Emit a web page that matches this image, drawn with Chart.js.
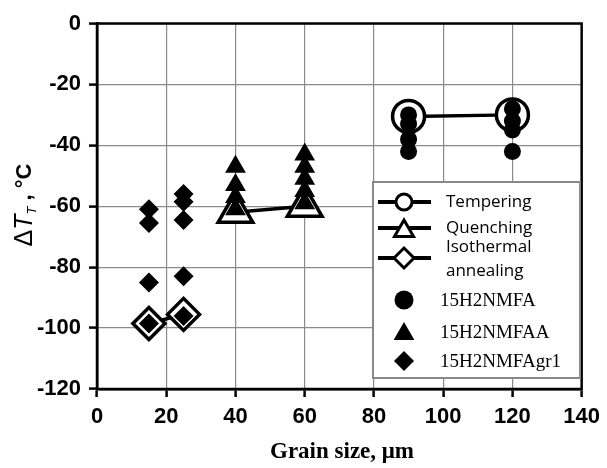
<!DOCTYPE html>
<html>
<head>
<meta charset="utf-8">
<script src="https://cdn.jsdelivr.net/npm/chart.js@4"></script>
<style>
  html, body { margin: 0; padding: 0; background: #fff; }
  #wrap { width: 607px; height: 468px; }
</style>
</head>
<body>
<div id="wrap"><canvas id="grain"></canvas></div>
<script>
// heat treatment (open markers joined by a line)
const grainTempering = [90, 120];
const dtTempering = [-30.5, -30];
const grainQuenching = [40, 60];
const dtQuenching = [-62, -60];
const grainIsothermal = [15, 25];
const dtIsothermal = [-98.5, -95.5];

// steels (filled markers)
const grainA = [90, 90, 90, 90, 120, 120, 120, 120];
const dtA = [-30, -33, -38, -42, -28, -32, -35, -42];
const grainAA = [40, 40, 40, 40, 60, 60, 60, 60, 60];
const dtAA = [-47, -53, -57, -61, -43, -47, -51, -55, -59];
const grainGr1 = [15, 15, 15, 15, 25, 25, 25, 25, 25];
const dtGr1 = [-61, -65.5, -85, -98.5, -56, -58.5, -64.5, -83, -96];

const xTicks = [0, 20, 40, 60, 80, 100, 120, 140];
const yTicks = [0, -20, -40, -60, -80, -100, -120];

function pts(xs, ys) {
    return xs.map(function (x, i) { return {x: x, y: ys[i]}; });
}

function openSet(label, xs, ys, style, r) {
    return {
        label: label, data: pts(xs, ys), showLine: true, order: 2,
        borderColor: '#000', borderWidth: 3.5,
        pointStyle: style, pointRadius: r, pointBorderWidth: 3.5,
        pointBorderColor: '#000', pointBackgroundColor: '#fff'
    };
}

function filledSet(label, xs, ys, style, r) {
    return {
        label: label, data: pts(xs, ys), showLine: false, order: 1,
        pointStyle: style, pointRadius: r, pointBorderWidth: 0,
        pointBackgroundColor: '#000', pointBorderColor: '#000'
    };
}

const extras = {
    id: 'extras',
    beforeDatasetsDraw(chart) {
        const a = chart.chartArea, ctx = chart.ctx;
        ctx.save();
        ctx.strokeStyle = '#000';
        ctx.lineWidth = 2.5;
        ctx.strokeRect(a.left, a.top, a.right - a.left, a.bottom - a.top);
        ctx.restore();
    },
    afterDraw(chart) {
        const ctx = chart.ctx;
        const draw = Chart.helpers.drawPoint;
        ctx.save();

        // legend box
        ctx.fillStyle = '#fff';
        ctx.fillRect(373, 182, 207, 196);
        ctx.strokeStyle = '#888';
        ctx.lineWidth = 2;
        ctx.strokeRect(373, 182, 207, 196);

        const rows = [
            {y: 202, style: 'circle', r: 8, text: ['Tempering']},
            {y: 228, style: 'triangle', r: 11, text: ['Quenching']},
            {y: 258, style: 'rectRot', r: 10, text: ['Isothermal', 'annealing']}
        ];
        rows.forEach(function (row) {
            ctx.strokeStyle = '#000';
            ctx.lineWidth = 4;
            ctx.beginPath();
            ctx.moveTo(378, row.y);
            ctx.lineTo(431, row.y);
            ctx.stroke();
            ctx.fillStyle = '#fff';
            ctx.lineWidth = 3;
            draw(ctx, {pointStyle: row.style, radius: row.r, borderWidth: 3}, 404, row.y + (row.style === 'triangle' ? 3 : 0));
            ctx.fillStyle = '#000';
            ctx.font = '17px "Open Sans", sans-serif';
            ctx.textBaseline = 'middle';
            ctx.textAlign = 'left';
            if (row.text.length === 1) {
                ctx.fillText(row.text[0], 446, row.y);
            } else {
                ctx.fillText(row.text[0], 446, row.y - 11);
                ctx.fillText(row.text[1], 446, row.y + 13);
            }
        });

        const rows2 = [
            {y: 300, style: 'circle', r: 9.5, text: '15H2NMFA'},
            {y: 332, style: 'triangle', r: 12, text: '15H2NMFAA'},
            {y: 361, style: 'rectRot', r: 10, text: '15H2NMFAgr1'}
        ];
        rows2.forEach(function (row) {
            ctx.fillStyle = '#000';
            ctx.strokeStyle = '#000';
            draw(ctx, {pointStyle: row.style, radius: row.r, borderWidth: 0}, 404, row.y + (row.style === 'triangle' ? 2 : 0));
            ctx.font = '19px "Liberation Serif", serif';
            ctx.textBaseline = 'middle';
            ctx.textAlign = 'left';
            ctx.fillText(row.text, 440, row.y + 1);
        });

        // axis titles
        ctx.fillStyle = '#000';
        ctx.font = 'bold 23px "Liberation Serif", serif';
        ctx.textAlign = 'center';
        ctx.textBaseline = 'middle';
        ctx.fillText('Grain size, \u03bcm', 342, 452);

        ctx.translate(25, 205);
        ctx.rotate(-Math.PI / 2);
        ctx.textAlign = 'left';
        const parts = [
            {t: '\u0394', f: '25px "Liberation Sans", sans-serif', dy: 0},
            {t: 'T', f: 'italic 25px "Liberation Sans", sans-serif', dy: 0},
            {t: 'T', f: 'italic 13px "Liberation Sans", sans-serif', dy: 7},
            {t: ' , \u00b0C', f: 'bold 22px "Liberation Sans", sans-serif', dy: 0}
        ];
        let w = 0;
        parts.forEach(function (p) { ctx.font = p.f; w += ctx.measureText(p.t).width; });
        let x = -w / 2;
        parts.forEach(function (p) {
            ctx.font = p.f;
            ctx.fillText(p.t, x, p.dy);
            x += ctx.measureText(p.t).width;
        });
        ctx.restore();
    }
};

function renderChart() {
    const ctx = document.getElementById('grain').getContext('2d');
    const gridStyle = {
        color: '#8a8a8a', lineWidth: 1.2,
        drawTicks: true, tickLength: 8, tickColor: '#000', tickWidth: 2.5
    };
    const tickFont = {family: '"Liberation Sans", Arial, sans-serif', size: 22, weight: 'bold'};
    new Chart(ctx, {
        type: 'scatter',
        data: {
            datasets: [
                filledSet('15H2NMFA', grainA, dtA, 'circle', 8.5),
                filledSet('15H2NMFAA', grainAA, dtAA, 'triangle', 12),
                filledSet('15H2NMFAgr1', grainGr1, dtGr1, 'rectRot', 10),
                openSet('Tempering', grainTempering, dtTempering, 'circle', 16),
                openSet('Quenching', grainQuenching, dtQuenching, 'triangle', 20),
                openSet('Isothermal annealing', grainIsothermal, dtIsothermal, 'rectRot', 16)
            ]
        },
        options: {
            responsive: true,
            maintainAspectRatio: false,
            animation: false,
            layout: {padding: {left: 0, top: 21, right: 19, bottom: 0}},
            plugins: {legend: {display: false}, tooltip: {enabled: false}},
            scales: {
                x: {
                    type: 'linear', min: 0, max: 140,
                    afterBuildTicks: function (s) { s.ticks = xTicks.map(function (v) { return {value: v}; }); },
                    afterFit: function (s) { s.height = 79; },
                    grid: gridStyle,
                    border: {color: '#000', width: 2.5},
                    ticks: {color: '#000', font: tickFont, padding: 7, maxRotation: 0}
                },
                y: {
                    type: 'linear', min: -120, max: 0,
                    afterBuildTicks: function (s) { s.ticks = yTicks.map(function (v) { return {value: v}; }); },
                    afterFit: function (s) { s.width = 97; },
                    grid: gridStyle,
                    border: {color: '#000', width: 2.5},
                    ticks: {color: '#000', font: tickFont, padding: 8}
                }
            }
        },
        plugins: [extras]
    });
}

window.addEventListener("load", function () {
    renderChart();
});
</script>
</body>
</html>
